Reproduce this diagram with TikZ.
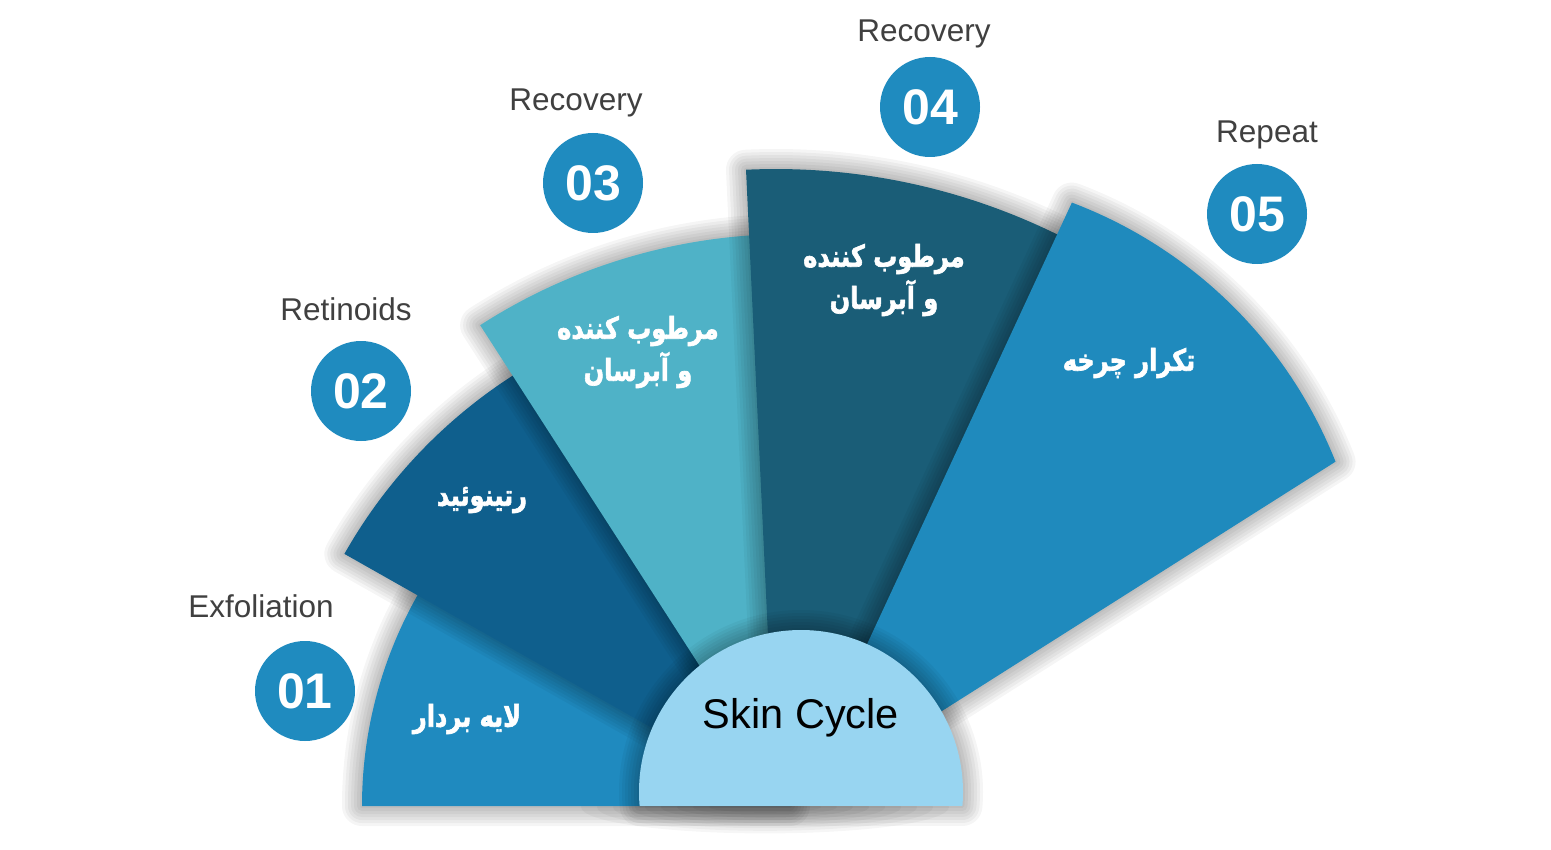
\documentclass[tikz,border=0pt]{standalone}
\usepackage{fontspec}
\usepackage{graphicx}
\setmainfont{Liberation Sans}
\newfontfamily\arabicfont[Script=Arabic, BoldFeatures={FakeBold=2.2}]{DejaVu Sans}
\TeXXeTstate=1
\usetikzlibrary{calc}
\definecolor{secA}{HTML}{1F8ABF}
\definecolor{secB}{HTML}{0F5F8D}
\definecolor{secC}{HTML}{4FB2C7}
\definecolor{secD}{HTML}{1A5D77}
\definecolor{secE}{HTML}{1F8ABD}
\definecolor{hub}{HTML}{98D5F1}
\definecolor{numblue}{HTML}{1F8BBF}
\definecolor{lblgray}{HTML}{404040}
\tikzset{
  shadowstroke/.style={line join=round, draw=black, draw opacity=0.04},
  lbl/.style={text=lblgray, font=\fontsize{15.75}{18}\selectfont, anchor=base, inner sep=0pt},
  num/.style={circle, fill=numblue, minimum size=50pt, inner sep=0pt, text=white, font=\fontsize{25}{30}\selectfont\bfseries},
  fa/.style={text=white, font=\arabicfont\bfseries\fontsize{15}{21}\selectfont, align=center, inner sep=0pt},
  hubtext/.style={text=black, font=\fontsize{20.75}{24}\selectfont, anchor=base, inner sep=0pt}
}
\newcommand\castshadow[1]{%
  \begin{scope}[yshift=-3.5pt, xshift=-1pt]
    \foreach \w in {2,5,8,11,14,17,20}{\draw[shadowstroke, line width=\w pt] #1;}
  \end{scope}}
\newcommand\castshadowtop[1]{%
  \begin{scope}
    \clip (0,0) rectangle (1551,805);
    \castshadow{#1}
  \end{scope}}
\newcommand\fatext[1]{\scalebox{0.8}[1]{\beginR #1\endR}}
\begin{document}
\begin{tikzpicture}[x=0.5pt,y=-0.5pt]
\useasboundingbox (0,0) rectangle (1551,850);
\fill[white] (0,0) rectangle (1551,850);
\coordinate (A) at (790,806);
\coordinate (B) at (776,806);
\coordinate (A5) at (792,806);
\coordinate (C5) at (910,631);
\coordinate (CC) at (801,792);
\coordinate (G) at (765,807);
% soft ground shadow under the base
\foreach \i in {1,...,9}{
  \fill[black, fill opacity=0.035] (G) ellipse[x radius={40+\i*16}, y radius={3+\i*2.6}];
}
\def\pathSa{(A) -- ++(-180:428) arc[start angle=-180, end angle=-140, radius=428] -- cycle}
\def\pathSb{(A) -- ++(-150.5:512) arc[start angle=-150.5, end angle=-116, radius=512] -- cycle}
\def\pathSc{(A) -- ++(-122.8:572) arc[start angle=-122.8, end angle=-86, radius=572] -- cycle}
\def\pathSd{(B) -- ++(-92.7:637) arc[start angle=-92.7, end angle=-60, radius=637] -- cycle}
\def\pathSe{(A5) -- ($(C5)+(-69.3:458)$) arc[start angle=-69.3, end angle=-21.7, radius=458] -- cycle}
\def\pathHub{($(CC)+(-184.95:162)$) arc[start angle=-184.95, end angle=4.95, radius=162] -- cycle}
% sectors
\castshadow{\pathSa}
\fill[secA] \pathSa;
\castshadowtop{\pathSb}
\fill[secB] \pathSb;
\castshadowtop{\pathSc}
\fill[secC] \pathSc;
\castshadowtop{\pathSd}
\fill[secD] \pathSd;
\castshadowtop{\pathSe}
\fill[secE] \pathSe;
% hub
\castshadow{\pathHub}
\fill[hub] \pathHub;
\node[hubtext] (hubt) at (801,728) {Skin Cycle};
% numbered circles
\node[num] (n1) at (305,691) {01};
\node[num] (n2) at (361,391) {02};
\node[num] (n3) at (593,183) {03};
\node[num] (n4) at (930,107) {04};
\node[num] (n5) at (1257,214) {05};
% labels
\node[lbl] (l1) at (261,617) {Exfoliation};
\node[lbl] (l2) at (346,320) {Retinoids};
\node[lbl] (l3) at (576,111) {Recovery};
\node[lbl] (l4) at (924,42) {Recovery};
\node[lbl] (l5) at (1267,143) {Repeat};
% persian texts
\node[fa] (f1) at (467,719) {\fatext{لایه بردار}};
\node[fa] (f2) at (482,500) {\fatext{رتینوئید}};
\node[fa] (f3) at (638,352) {\fatext{مرطوب کننده}\\\fatext{و آبرسان}};
\node[fa] (f4) at (884,280) {\fatext{مرطوب کننده}\\\fatext{و آبرسان}};
\node[fa] (f5) at (1129,363) {\fatext{تکرار چرخه}};
\end{tikzpicture}
\end{document}
